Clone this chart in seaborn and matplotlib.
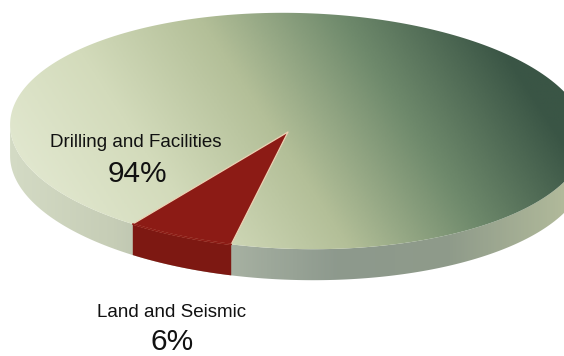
import numpy as np
import matplotlib
matplotlib.use("Agg")
import matplotlib.pyplot as plt
import seaborn as sns
from matplotlib.patches import Polygon

sns.set_style("white")
plt.rcParams['font.family'] = ['Liberation Sans', 'DejaVu Sans']

# data
labels = ["Drilling and Facilities", "Land and Seismic"]
shares = [94, 6]
label_pos = [(136, 147), (172, 317)]
pct_pos = [(137, 182), (172, 350)]

# geometry of the tilted disc (pixel-like coords, y down)
cx, cy, a, b, h = 298, 131, 288, 118, 31
rot = np.radians(1.5)
apex = (288, 132)
red_start = 102.8  # parametric angle where the small slice begins

top_cmap = sns.blend_palette(["#e2e8d0", "#d3dbbb", "#b3bf98", "#6f8a6c", "#3a5545"], as_cmap=True)
side_cmap = sns.blend_palette(["#d5dcc6", "#c6cdb6", "#a8b2a3", "#8d998d", "#8f9b8a", "#b0b99a"], as_cmap=True)


def arc(t0, t1, dy=0, n=300):
    t = np.radians(np.linspace(t0, t1, n))
    ex, ey = a * np.cos(t), b * np.sin(t)
    x = cx + ex * np.cos(rot) - ey * np.sin(rot)
    y = cy + ex * np.sin(rot) + ey * np.cos(rot) + dy
    return np.column_stack([x, y])


fig = plt.figure(figsize=(5.64, 3.56), dpi=100)
ax = fig.add_axes([0, 0, 1, 1])
ax.set_xlim(0, 564)
ax.set_ylim(356, 0)
ax.axis("off")

# side band (front half, between the vertical tangent points)
t_ext = np.degrees(np.arctan(-(b / a) * np.tan(rot)))
side = np.vstack([arc(t_ext, t_ext + 180), arc(t_ext + 180, t_ext, dy=h)])
side_patch = Polygon(side, closed=True, facecolor="none", edgecolor="none")
ax.add_patch(side_patch)
xx = np.linspace(0, 1, 300)[None, :].repeat(2, axis=0)
im = ax.imshow(xx, cmap=side_cmap, extent=[0, 564, 356, 0], aspect="auto", zorder=1)
im.set_clip_path(side_patch)

# top surface gradient (light lower-left to dark upper-right)
top_patch = Polygon(arc(0, 360), closed=True, facecolor="none", edgecolor="none")
ax.add_patch(top_patch)
X, Y = np.meshgrid(np.linspace(0, 564, 400), np.linspace(0, 356, 260))
g = ((X - 60) * 400 + (Y - 240) * (-260)) / (400.0 ** 2 + 260.0 ** 2)
g = np.clip(g, 0, 1)
im2 = ax.imshow(g, cmap=top_cmap, extent=[0, 564, 356, 0], aspect="auto", zorder=2)
im2.set_clip_path(top_patch)

# small slice, angles from the shares
span = 360 * shares[1] / sum(shares)
t0, t1 = red_start, red_start + span
red_side = np.vstack([arc(t0, t1), arc(t1, t0, dy=h)])
ax.add_patch(Polygon(red_side, closed=True, facecolor="#7d1812", edgecolor="none", zorder=3))
red_top = np.vstack([[apex], arc(t0, t1)])
ax.add_patch(Polygon(red_top, closed=True, facecolor="#8c1b15", edgecolor="#ecd2b4",
                     linewidth=0.9, joinstyle="round", zorder=4))
# cover the edge line along the rim
ax.plot(*arc(t0, t1).T, color="#8c1b15", lw=1.2, zorder=4)

for i, lab in enumerate(labels):
    ax.text(*label_pos[i], lab, fontsize=13.5, ha="center", va="baseline", color="#111111", zorder=5)
    ax.text(*pct_pos[i], f"{shares[i]}%", fontsize=21.5, ha="center", va="baseline", color="#111111", zorder=5)

fig.savefig("out.png", dpi=100)
